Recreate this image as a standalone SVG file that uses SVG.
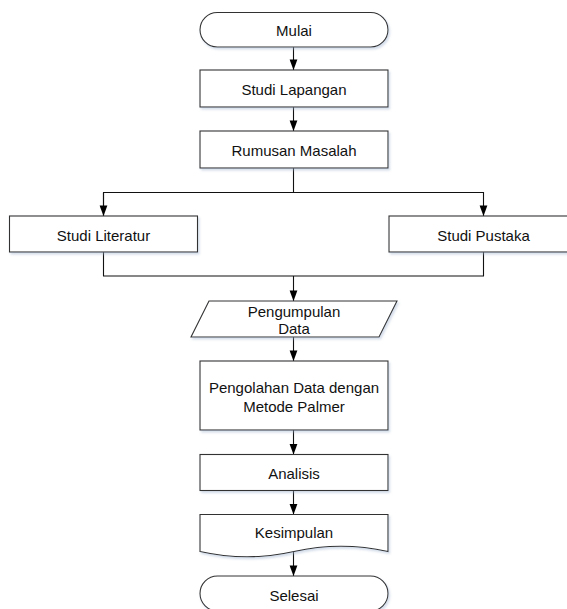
<svg xmlns="http://www.w3.org/2000/svg" width="567" height="609" viewBox="0 0 567 609">
<style>
.shape{fill:#ffffff;stroke:#333333;stroke-width:1.1;filter:url(#sh)}
.lbl{font-family:"Liberation Sans",Arial,sans-serif;font-size:15px;fill:#111111;text-anchor:middle;dominant-baseline:central}
.con{fill:none;stroke:#111111;stroke-width:1.1}
</style>
<defs>
<filter id="sh" x="-5%" y="-10%" width="112%" height="130%">
<feDropShadow dx="1.5" dy="2" stdDeviation="1.2" flood-color="#9fb3cf" flood-opacity="0.45"/>
</filter>
<marker id="arr" viewBox="0 0 10 11" refX="10.5" refY="5.5" markerWidth="10.5" markerHeight="11" markerUnits="userSpaceOnUse" orient="auto">
<path d="M0,1.6 L10.5,5.5 L0,9.4 Z" fill="#000000"/>
</marker>
</defs>
<rect width="567" height="609" fill="#ffffff"/>
<g id="connectors">
<path class="con" d="M293.5,47 V70" marker-end="url(#arr)"/>
<path class="con" d="M293.5,107 V131" marker-end="url(#arr)"/>
<path class="con" d="M293.5,168 V192.5"/>
<path class="con" d="M103.5,216 V192.5 H483.5 V216" marker-end="url(#arr)"/>
<path class="con" d="M103.5,192.5 V216" marker-end="url(#arr)"/>
<path class="con" d="M103.5,252 V276 H483.5 V252"/>
<path class="con" d="M293.5,276 V301" marker-end="url(#arr)"/>
<path class="con" d="M293.5,337 V361" marker-end="url(#arr)"/>
<path class="con" d="M293.5,430 V454.5" marker-end="url(#arr)"/>
<path class="con" d="M293.5,490.5 V514.5" marker-end="url(#arr)"/>
<path class="con" d="M293.5,552 V576" marker-end="url(#arr)"/>
</g>
<g id="mulai">
<rect class="shape" x="200" y="12.5" width="188" height="34.5" rx="17.25" ry="17.25"/>
<text class="lbl" x="294" y="30">Mulai</text>
</g>
<g id="studi-lapangan">
<rect class="shape" x="200" y="70" width="188" height="37"/>
<text class="lbl" x="294" y="89.5">Studi Lapangan</text>
</g>
<g id="rumusan-masalah">
<rect class="shape" x="200" y="131" width="188" height="37"/>
<text class="lbl" x="294" y="150.5">Rumusan Masalah</text>
</g>
<g id="studi-literatur">
<rect class="shape" x="9.5" y="216" width="188" height="36"/>
<text class="lbl" x="103.5" y="235">Studi Literatur</text>
</g>
<g id="studi-pustaka">
<rect class="shape" x="389" y="216" width="188" height="36"/>
<text class="lbl" x="483.5" y="235">Studi Pustaka</text>
</g>
<g id="pengumpulan-data">
<polygon class="shape" points="209,301 397,301 379,337 191,337"/>
<text class="lbl" x="294" y="311">Pengumpulan</text>
<text class="lbl" x="294" y="328.5">Data</text>
</g>
<g id="pengolahan-data">
<rect class="shape" x="200" y="361" width="188" height="69"/>
<text class="lbl" x="294" y="387.5">Pengolahan Data dengan</text>
<text class="lbl" x="294" y="406">Metode Palmer</text>
</g>
<g id="analisis">
<rect class="shape" x="200" y="454.5" width="188" height="36"/>
<text class="lbl" x="294" y="473">Analisis</text>
</g>
<g id="kesimpulan">
<path class="shape" d="M200,514.5 H388 V551.5 Q341,541 294,551.5 T200,551.5 Z"/>
<text class="lbl" x="294" y="532">Kesimpulan</text>
</g>
<g id="selesai">
<rect class="shape" x="200" y="576" width="188" height="35" rx="17.5" ry="17.5"/>
<text class="lbl" x="294" y="595.5">Selesai</text>
</g>
</svg>
